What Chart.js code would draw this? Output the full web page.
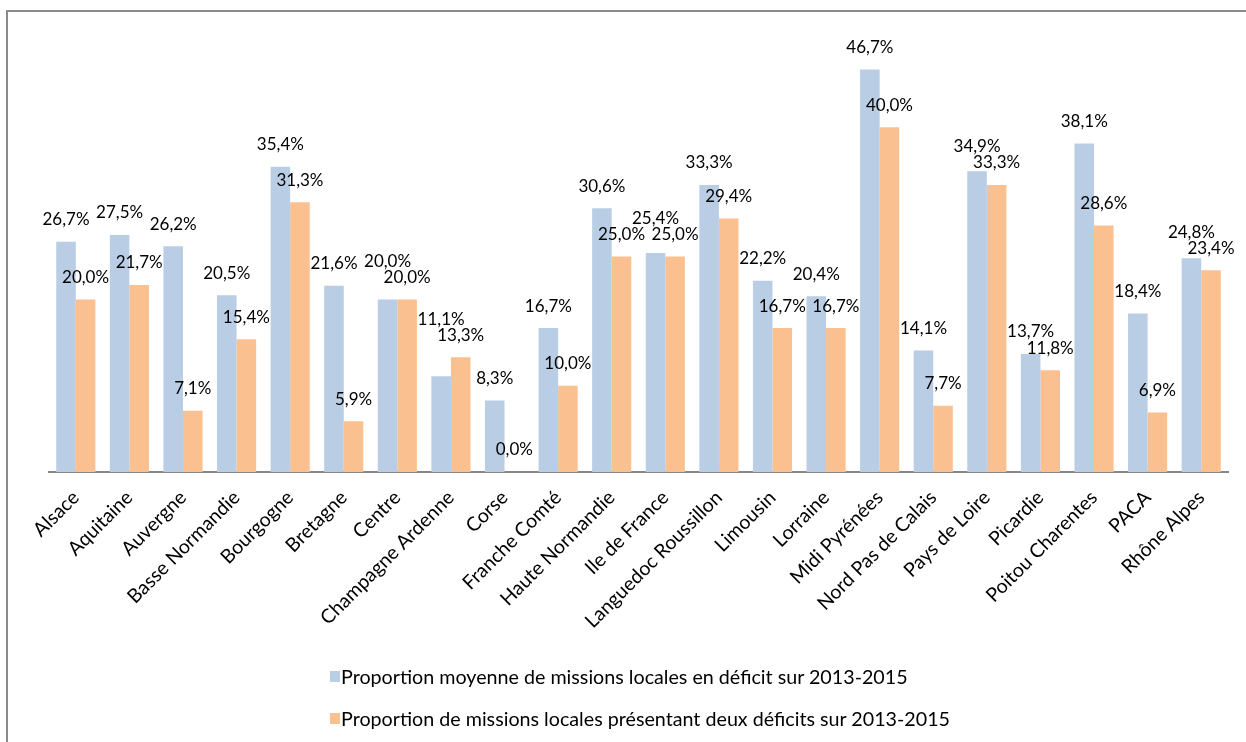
<!DOCTYPE html>
<html lang="fr">
<head>
<meta charset="utf-8">
<title>Missions locales en déficit par région</title>
<script src="https://cdn.jsdelivr.net/npm/chart.js@4.4.1/dist/chart.umd.min.js"></script>
<style>
  html, body { margin: 0; padding: 0; background: #fff; }
  #wrap { position: relative; width: 1246px; height: 742px; overflow: hidden; }
  #frame {
    position: absolute; left: 6px; top: 10px; right: -4px; bottom: -4px;
    border-top: 2px solid #8a8a8a; border-left: 2px solid #8a8a8a;
  }
  #chart { position: absolute; left: 0; top: 0; }
  .legend { position: absolute; left: 330px; font: 19.7px Lato, sans-serif; color: #000; }
  .legend .row { position: absolute; left: 0; white-space: nowrap; display: flex; align-items: center; height: 24px; }
  .legend .sw { width: 10px; height: 11px; margin-right: 1px; }
</style>
</head>
<body>
<div id="wrap">
  <div id="frame"></div>
  <canvas id="chart" width="1246" height="742"></canvas>
  <div class="legend" id="legend"></div>
</div>
<script>
// Regions and the two series (percentages)
const regions = [
  'Alsace', 'Aquitaine', 'Auvergne', 'Basse Normandie', 'Bourgogne', 'Bretagne',
  'Centre', 'Champagne Ardenne', 'Corse', 'Franche Comté', 'Haute Normandie',
  'Ile de France', 'Languedoc Roussillon', 'Limousin', 'Lorraine', 'Midi Pyrénées',
  'Nord Pas de Calais', 'Pays de Loire', 'Picardie', 'Poitou Charentes', 'PACA', 'Rhône Alpes'
];
const moyenneDeficit = [
  26.7, 27.5, 26.2, 20.5, 35.4, 21.6, 20.0, 11.1, 8.3, 16.7, 30.6,
  25.4, 33.3, 22.2, 20.4, 46.7, 14.1, 34.9, 13.7, 38.1, 18.4, 24.8
];
const deuxDeficits = [
  20.0, 21.7, 7.1, 15.4, 31.3, 5.9, 20.0, 13.3, 0.0, 10.0, 25.0,
  25.0, 29.4, 16.7, 16.7, 40.0, 7.7, 33.3, 11.8, 28.6, 6.9, 23.4
];
const seriesNames = [
  'Proportion moyenne de missions locales en déficit sur 2013-2015',
  'Proportion de missions locales présentant deux déficits sur 2013-2015'
];
const seriesColors = ['#b9cde5', '#fac090'];

Chart.defaults.font.family = 'Lato, sans-serif';
Chart.defaults.font.size = 17;
Chart.defaults.color = '#000';

const fmt = v => v.toFixed(1).replace('.', ',') + '%';

// Draws the value above each bar; the first series' label is pushed up
// when it would sit on top of the second one
const valueLabels = {
  id: 'valueLabels',
  afterDatasetsDraw(chart) {
    const ctx = chart.ctx;
    const m0 = chart.getDatasetMeta(0).data;
    const m1 = chart.getDatasetMeta(1).data;
    ctx.save();
    ctx.font = '17px Lato, sans-serif';
    ctx.fillStyle = '#000';
    ctx.textAlign = 'center';
    ctx.textBaseline = 'middle';
    for (let i = 0; i < regions.length; i++) {
      const yB = m1[i].y - 22;
      let yA = m0[i].y - 22;
      if (yA > yB - 16) yA = yB - 16;
      ctx.fillText(fmt(moyenneDeficit[i]), m0[i].x, yA);
      ctx.fillText(fmt(deuxDeficits[i]), m1[i].x, yB);
    }
    ctx.restore();
  }
};

new Chart(document.getElementById('chart'), {
  type: 'bar',
  data: {
    labels: regions,
    datasets: [
      { label: seriesNames[0], data: moyenneDeficit, backgroundColor: seriesColors[0] },
      { label: seriesNames[1], data: deuxDeficits, backgroundColor: seriesColors[1] }
    ]
  },
  options: {
    responsive: false,
    animation: false,
    devicePixelRatio: 1,
    categoryPercentage: 0.73,
    barPercentage: 1.0,
    layout: { padding: { top: 41, left: 49, right: 18, bottom: 0 } },
    plugins: { legend: { display: false }, tooltip: { enabled: false } },
    scales: {
      x: {
        grid: { display: false },
        border: { display: true, color: '#878787', width: 2 },
        ticks: { autoSkip: false, maxRotation: 45, minRotation: 45, padding: 6, font: { size: 19.5 } },
        afterFit(scale) { scale.height = 270; }
      },
      y: { display: false, min: 0, max: 50 }
    }
  },
  plugins: [valueLabels]
});

// Legend below the chart, rows aligned on the left
const legend = document.getElementById('legend');
seriesNames.forEach((name, i) => {
  const row = document.createElement('div');
  row.className = 'row';
  row.style.top = (664 + i * 42) + 'px';
  const sw = document.createElement('span');
  sw.className = 'sw';
  sw.style.background = seriesColors[i];
  const txt = document.createElement('span');
  txt.textContent = name;
  row.appendChild(sw);
  row.appendChild(txt);
  legend.appendChild(row);
});
</script>
</body>
</html>
